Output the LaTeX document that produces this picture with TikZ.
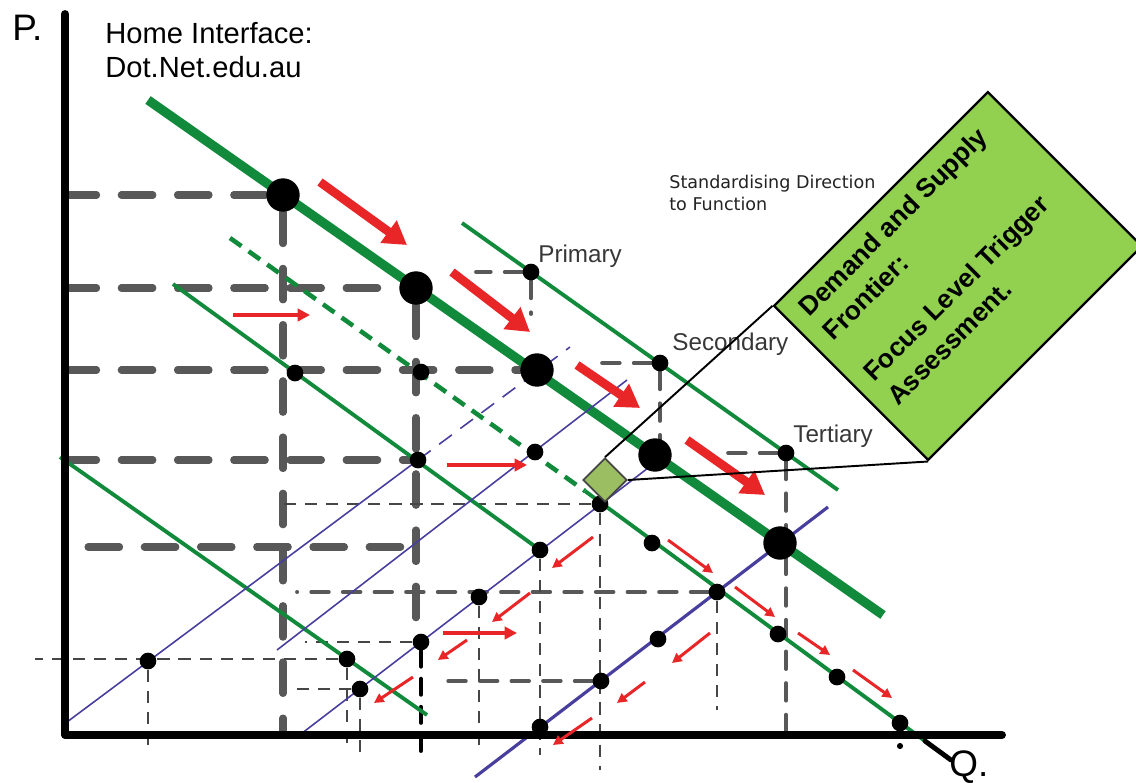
\documentclass[tikz,border=0pt]{standalone}
\usepackage{fontspec}
\setmainfont{Liberation Sans}
\newfontfamily\notefont{DejaVu Sans}
\definecolor{curvegreen}{RGB}{18, 138, 60}
\definecolor{supplyblue}{RGB}{72, 62, 158}
\definecolor{flowred}{RGB}{232, 38, 40}
\definecolor{guidegray}{RGB}{88, 88, 88}
\definecolor{finegray}{RGB}{70, 70, 70}
\definecolor{labelgray}{RGB}{55, 55, 55}
\definecolor{notegray}{RGB}{35, 35, 35}
\definecolor{frontiergreen}{RGB}{146, 208, 80}
\definecolor{focusgreen}{RGB}{155, 190, 98}
\usetikzlibrary{arrows.meta, shapes.geometric, positioning, calc, backgrounds}

\begin{document}
\begin{tikzpicture}[x=0.02cm, y=-0.02cm,
    axisline/.style={line width=4.5pt, line cap=round, line join=round},
    axislabel/.style={font=\fontsize{21}{24}\selectfont, anchor=base west, inner sep=0pt},
    demandmain/.style={curvegreen, line width=5.3pt},
    demandline/.style={curvegreen, line width=2.2pt},
    demanddash/.style={curvegreen, line width=2.6pt, dash pattern=on 8pt off 5pt},
    supplyline/.style={supplyblue, line width=0.9pt},
    supplydash/.style={supplyblue, line width=0.9pt, dash pattern=on 9pt off 6pt},
    supplymain/.style={supplyblue, line width=1.8pt},
    guidebold/.style={guidegray, line width=4pt, line cap=round, dash pattern=on 18pt off 14pt},
    guide/.style={guidegray, line width=2.2pt, line cap=round, dash pattern=on 10pt off 8pt},
    guidefine/.style={finegray, line width=1.1pt, dash pattern=on 7pt off 5pt},
    guideblack/.style={black, line width=2.4pt, line cap=round, dash pattern=on 9pt off 7pt},
    bigarrow/.style={flowred, line width=5pt, -{Triangle[length=13pt, width=15pt]}},
    flowarrow/.style={flowred, line width=2.3pt, -{Triangle[length=7pt, width=7pt]}},
    smallarrow/.style={flowred, line width=1.7pt, -{Triangle[length=5.5pt, width=5.5pt]}},
    pointdot/.style={circle, fill=black, inner sep=0pt, minimum size=9.5pt},
    bigpoint/.style={circle, fill=black, inner sep=0pt, minimum size=19pt},
    levellabel/.style={labelgray, font=\fontsize{13.8}{16}\selectfont, anchor=base west, inner sep=0pt},
    focusmark/.style={diamond, draw=finegray, line width=1pt, fill=focusgreen, inner sep=0pt, minimum size=25pt},
    frontierbox/.style={rectangle, draw=black, line width=1.3pt, fill=frontiergreen, rotate=45,
        minimum width=172pt, minimum height=124pt},
    frontiertext/.style={rotate=45, align=left, inner sep=0pt, font=\bfseries\fontsize{15}{19.3}\selectfont},
    calloutline/.style={black, line width=1.1pt},
  ]

\useasboundingbox (0,0) rectangle (1136,782);

% Axes
\coordinate (O) at (65,735);
\coordinate (ptop) at (65,14);
\coordinate (qend) at (1002,735);
\draw[axisline] (ptop) -- (O) -- (qend);
\node[axislabel] (plabel) at (12,40) {P.};
\node[axislabel] (qlabel) at (949,776) {Q.};

% Titles
\node[anchor=north west, align=left, inner sep=0pt, font=\fontsize{16.6}{19.3}\selectfont]
    (home) at (105,22) {Home Interface:\\Dot.Net.edu.au};
\node[anchor=north west, align=left, inner sep=0pt, notegray, font=\notefont\fontsize{10}{12.5}\selectfont]
    (stdnote) at (669,175) {Standardising Direction\\to Function};

% Curve end points
\coordinate (dmA) at (148,100); \coordinate (dmB) at (883,615);
\coordinate (dpA) at (462,223); \coordinate (dpB) at (838,490);
\coordinate (ddA) at (230,238); \coordinate (ddB) at (585,491);
\coordinate (ddC) at (925,741); \coordinate (qtip) at (951,760);
\coordinate (dlA) at (173,284); \coordinate (dlB) at (540,550);
\coordinate (doA) at (60,457);  \coordinate (doB) at (427,715);
\coordinate (saA) at (67,722);  \coordinate (saB) at (570,347);
\coordinate (sbA) at (277,650); \coordinate (sbB) at (627,380);
\coordinate (scA) at (297,737); \coordinate (scB) at (648,468);
\coordinate (sdA) at (475,777); \coordinate (sdB) at (828,507);

% Main demand points
\node[bigpoint] (m1) at (283,195) {};
\node[bigpoint] (m2) at (416,288) {};
\node[bigpoint] (m3) at (537,370) {};
\node[bigpoint] (m4) at (655,455) {};
\node[bigpoint] (m5) at (780,543) {};

% Level points
\node[pointdot] (s1) at (531,272) {};
\node[pointdot] (s2) at (660,363) {};
\node[pointdot] (s3) at (786,453) {};
\node[pointdot] (s4) at (295,373) {};
\node[pointdot] (s5) at (421,372) {};
\node[pointdot] (s6) at (418,460) {};
\node[pointdot] (s7) at (535,452) {};
\node[pointdot] (s8) at (600,504) {};
\node[pointdot] (s9) at (540,550) {};
\node[pointdot] (s10) at (652,543) {};
\node[pointdot] (s11) at (479,597) {};
\node[pointdot] (s12) at (717,592) {};
\node[pointdot] (s13) at (421,642) {};
\node[pointdot] (s14) at (658,639) {};
\node[pointdot] (s15) at (778,634) {};
\node[pointdot] (s16) at (148,661) {};
\node[pointdot] (s17) at (347,659) {};
\node[pointdot] (s18) at (360,689) {};
\node[pointdot] (s19) at (601,681) {};
\node[pointdot] (s20) at (837,677) {};
\node[pointdot] (s21) at (540,727) {};
\node[pointdot] (s22) at (900,723) {};
\node[circle, fill=black, inner sep=0pt, minimum size=3.5pt] (qmark) at (900,746) {};

% Level names
\node[levellabel] (primlabel) at (538,262) {Primary};
\node[levellabel] (seclabel) at (672,350) {Secondary};
\node[levellabel] (terlabel) at (793,442) {Tertiary};

\begin{scope}[on background layer]
    % Bold guides
    \draw[guidebold] (m1 -| O) -- (m1);
    \draw[guidebold] (m2 -| O) -- (m2);
    \draw[guidebold] (m3 -| O) -- (m3);
    \draw[guidebold] (s6 -| O) -- (s6);
    \draw[guidebold] (88,547) -- (425,547);
    \draw[guidebold] (m1) -- (m1 |- O);
    \draw[guidebold] (m2) -- (m2 |- s13);
    \draw[guideblack] (s13) -- ($(s13 |- O)+(0,20)$);

    % Level guides
    \draw[guide] (s1) -- ++(-55,0);
    \draw[guide] (s1) -- ++(0,42);
    \draw[guide] (s2) -- ++(-65,0);
    \draw[guide] (s2) -- (s2 |- m4);
    \draw[guide] (s3) -- ++(-66,0);
    \draw[guide] (s3) -- (s3 |- O);
    \draw[guide] (s12) -- ++(-420,0);
    \draw[guide] (s19) -- ++(-165,0);

    % Fine guides
    \draw[guidefine] (s8) -- (s8 -| m1);
    \draw[guidefine] (s8) -- ($(s8 |- O)+(0,35)$);
    \draw[guidefine] (s9) -- ($(s9 |- O)+(0,20)$);
    \draw[guidefine] (s11) -- ($(s11 |- O)+(0,18)$);
    \draw[guidefine] (s12) -- ++(0,118);
    \draw[guidefine] (s13) -- ++(-116,0);
    \draw[guidefine] (s17) -- ++(-312,0);
    \draw[guidefine] (s16) -- ($(s16 |- O)+(0,12)$);
    \draw[guidefine] (s17) -- ($(s17 |- O)+(0,12)$);
    \draw[guidefine] (s18) -- ++(-67,0);
    \draw[guidefine] (s18) -- ($(s18 |- O)+(0,18)$);

    % Demand curves
    \draw[demandmain] (dmA) -- (dmB);
    \draw[demandline] (dpA) -- (dpB);
    \draw[demanddash] (ddA) -- (ddB);
    \draw[demandline] (ddB) -- (ddC);
    \draw[demandline] (dlA) -- (dlB);
    \draw[demandline] (doA) -- (doB);

    % Supply curves
    \draw[supplyline] (saA) -- (s6.center);
    \draw[supplydash] (s6.center) -- (saB);
    \draw[supplyline] (sbA) -- (sbB);
    \draw[supplyline] (scA) -- (scB);
    \draw[supplymain] (sdA) -- (sdB);
\end{scope}

\draw[line width=2.8pt, line cap=round] (ddC) -- (qtip);

% Direction arrows
\draw[bigarrow] (320,182) -- (407,245);
\draw[bigarrow] (452,272) -- (530,332);
\draw[bigarrow] (577,365) -- (640,408);
\draw[bigarrow] (687,440) -- (765,495);
\draw[flowarrow] (233,315) -- (310,315);
\draw[flowarrow] (447,465) -- (527,465);
\draw[flowarrow] (443,633) -- (517,633);
\draw[smallarrow] (668,540) -- (713,573);
\draw[smallarrow] (735,587) -- (775,617);
\draw[smallarrow] (798,633) -- (830,655);
\draw[smallarrow] (853,670) -- (892,698);
\draw[smallarrow] (593,537) -- (552,568);
\draw[smallarrow] (530,593) -- (492,622);
\draw[smallarrow] (467,640) -- (438,660);
\draw[smallarrow] (413,677) -- (374,703);
\draw[smallarrow] (710,633) -- (672,663);
\draw[smallarrow] (645,682) -- (617,703);
\draw[smallarrow] (592,718) -- (553,745);

% Frontier callout
\node[focusmark] (focus) at (605,480) {};
\node[frontierbox] (frontier) at (958,276) {};
\draw[calloutline] (focus.north) -- (frontier.north west);
\draw[calloutline] (focus.east) -- (frontier.south west);
\node[frontiertext] (frontiertxt) at (937,266)
    {Demand and Supply\\Frontier:\\[13.6pt]Focus Level Trigger\\Assessment.};
\end{tikzpicture}
\end{document}
